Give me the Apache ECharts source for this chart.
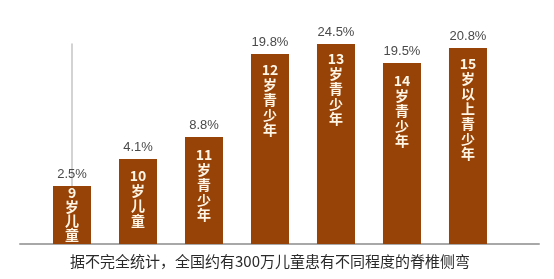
<!DOCTYPE html>
<html>
<head>
<meta charset="utf-8">
<script src="https://cdn.jsdelivr.net/npm/echarts@6/dist/echarts.min.js"></script>
<style>html,body{margin:0;padding:0;background:#fff}#c{width:554px;height:279px}</style>
</head>
<body>
<div id="c"></div>
<script>
// Categories (text printed inside each bar)
const categories = ['9\n岁\n儿\n童', '10\n岁\n儿\n童', '11\n岁\n青\n少\n年', '12\n岁\n青\n少\n年', '13\n岁\n青\n少\n年', '14\n岁\n青\n少\n年', '15\n岁\n以\n上\n青\n少\n年'];
// Percent labels shown above each bar
const percentLabels = ['2.5%', '4.1%', '8.8%', '19.8%', '24.5%', '19.5%', '20.8%'];
// Drawn bar heights as they appear in the (non-proportional) illustration, arbitrary units
const barHeights = [58, 85, 107, 190, 200, 181, 196];
const caption = '据不完全统计，全国约有300万儿童患有不同程度的脊椎侧弯';

const chart = echarts.init(document.getElementById('c'));
const barColor = '#974207';
const insideDist = [0, 9, 10, 8, 7, 10, 8];

const mainData = categories.map((c, i) => ({
  value: [i, barHeights[i]],
  label: i === 0 ? { distance: insideDist[i], lineHeight: 14 } : { distance: insideDist[i] }
}));
const topData = categories.map((c, i) => [i, barHeights[i]]);

chart.setOption({
  animation: false,
  grid: { left: 20, right: 15, top: 44, bottom: 35 },
  xAxis: {
    type: 'value', min: -0.788, max: 7.076,
    axisLine: { show: true, lineStyle: { color: '#a8a8a8', width: 2 } },
    axisTick: { show: false }, axisLabel: { show: false }, splitLine: { show: false }
  },
  yAxis: {
    type: 'value', min: 0, max: 200,
    axisLine: { show: true, lineStyle: { color: '#c4c4c4', width: 1.5 } },
    axisTick: { show: false }, axisLabel: { show: false }, splitLine: { show: false }
  },
  series: [
    {
      type: 'bar', barWidth: 38, barGap: '-100%',
      itemStyle: { color: barColor },
      data: mainData,
      z: 2,
      label: {
        show: true, position: 'insideTop',
        formatter: p => categories[p.dataIndex],
        color: '#fff6e6', fontSize: 14, fontWeight: 'bold', lineHeight: 15,
        fontFamily: '"Noto Sans CJK SC", sans-serif', align: 'center'
      }
    },
    {
      type: 'bar', barWidth: 38, barGap: '-100%',
      itemStyle: { color: 'rgba(0,0,0,0)' },
      data: topData,
      z: 3,
      label: {
        show: true, position: 'top', distance: 5,
        formatter: p => percentLabels[p.dataIndex],
        color: '#4a4a4a', fontSize: 13,
        fontFamily: '"Liberation Sans", Arial, sans-serif'
      }
    }
  ],
  graphic: [{
    type: 'text', x: 270, y: 261,
    style: {
      text: caption, fill: '#2a2a2a', fontSize: 15,
      fontFamily: '"Noto Sans CJK SC", serif',
      textAlign: 'center', textVerticalAlign: 'middle'
    }
  }]
});
</script>
</body>
</html>
